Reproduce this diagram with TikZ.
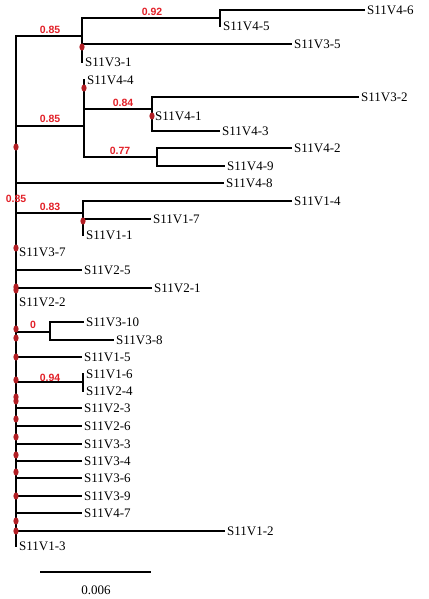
\documentclass[tikz,border=0pt]{standalone}
\usepackage{fontspec}
\setmainfont{Liberation Serif}
\newfontfamily\supfont{Liberation Sans}
\usetikzlibrary{positioning}

\definecolor{suppred}{RGB}{226,32,40}
\definecolor{dotred}{RGB}{178,30,36}

\begin{document}
\begin{tikzpicture}[
  x=1pt, y=-1pt,
  branch/.style={line width=1.7pt},
  leaf/.style={anchor=west, inner sep=2pt, font=\fontsize{13}{15}\selectfont},
  supp/.style={text=suppred, inner sep=0pt, font=\supfont\bfseries\fontsize{10.5}{12}\selectfont},
  hit/.style={fill=dotred, draw=none}
]
  \useasboundingbox (0,0) rectangle (428,599);

  % internal nodes
  \coordinate (r)  at (16,290);
  \coordinate (a)  at (82,36);
  \coordinate (a1) at (220,18);
  \coordinate (b)  at (84,126);
  \coordinate (c)  at (152,109);
  \coordinate (d)  at (157,157);
  \coordinate (e)  at (83,213);
  \coordinate (f)  at (50,332);
  \coordinate (g)  at (83,382);

  % leaves
  \node[leaf] (l46)  at (365,10)  {S11V4-6};
  \node[leaf] (l45)  at (221,26)  {S11V4-5};
  \node[leaf] (l35)  at (292,44)  {S11V3-5};
  \node[leaf] (l31)  at (83,62)   {S11V3-1};
  \node[leaf] (l44)  at (85,80)   {S11V4-4};
  \node[leaf] (l32)  at (359,97)  {S11V3-2};
  \node[leaf] (l41)  at (153,116) {S11V4-1};
  \node[leaf] (l43)  at (220,131) {S11V4-3};
  \node[leaf] (l42)  at (292,148) {S11V4-2};
  \node[leaf] (l49)  at (225,166) {S11V4-9};
  \node[leaf] (l48)  at (224,183) {S11V4-8};
  \node[leaf] (l14)  at (292,201) {S11V1-4};
  \node[leaf] (l17)  at (151,219) {S11V1-7};
  \node[leaf] (l11)  at (84,235)  {S11V1-1};
  \node[leaf] (l37)  at (17,252)  {S11V3-7};
  \node[leaf] (l25)  at (82,270)  {S11V2-5};
  \node[leaf] (l21)  at (152,288) {S11V2-1};
  \node[leaf] (l22)  at (17,302)  {S11V2-2};
  \node[leaf] (l310) at (84,322)  {S11V3-10};
  \node[leaf] (l38)  at (114,340) {S11V3-8};
  \node[leaf] (l15)  at (82,357)  {S11V1-5};
  \node[leaf] (l16)  at (84,374)  {S11V1-6};
  \node[leaf] (l24)  at (84,391)  {S11V2-4};
  \node[leaf] (l23)  at (82,408)  {S11V2-3};
  \node[leaf] (l26)  at (82,426)  {S11V2-6};
  \node[leaf] (l33)  at (82,444)  {S11V3-3};
  \node[leaf] (l34)  at (82,461)  {S11V3-4};
  \node[leaf] (l36)  at (82,478)  {S11V3-6};
  \node[leaf] (l39)  at (82,496)  {S11V3-9};
  \node[leaf] (l47)  at (82,513)  {S11V4-7};
  \node[leaf] (l12)  at (225,531) {S11V1-2};
  \node[leaf] (l13)  at (17,546)  {S11V1-3};

  % branches
  \foreach \p/\c in {r/a, a/a1, a1/l46.west, a1/l45.west, a/l35.west, a/l31.west,
                     r/b, b/l44.west, b/c, c/l32.west, c/l41.west, c/l43.west,
                     b/d, d/l42.west, d/l49.west, r/l48.west,
                     r/e, e/l14.west, e/l17.west, e/l11.west,
                     r/l37.west, r/l25.west, r/l21.west, r/l22.west,
                     r/f, f/l310.west, f/l38.west, r/l15.west,
                     r/g, g/l16.west, g/l24.west,
                     r/l23.west, r/l26.west, r/l33.west, r/l34.west, r/l36.west,
                     r/l39.west, r/l47.west, r/l12.west, r/l13.west}
    \draw[branch] (\p) |- (\c);

  % support values
  \node[supp] (sa)  at (50,30)   {0.85};
  \node[supp] (sa1) at (152,12)  {0.92};
  \node[supp] (sb)  at (50,119)  {0.85};
  \node[supp] (sc)  at (123,103) {0.84};
  \node[supp] (sd)  at (120,151) {0.77};
  \node[supp] (sr)  at (16,199)  {0.85};
  \node[supp] (se)  at (50,207)  {0.83};
  \node[supp] (sf)  at (33,325)  {0};
  \node[supp] (sg)  at (50,378)  {0.94};

  % marks on branches
  \foreach \x/\y in {82/47, 84/88, 152/116, 83/221, 16/147, 16/248, 16/287, 16/290,
                     16/329, 16/338, 16/357, 16/380, 16/397, 16/401, 16/419,
                     16/437, 16/455, 16/472, 16/496, 16/521, 16/531}
    \fill[hit] (\x,\y) ellipse (2.6 and 3.6);

  % scale bar
  \coordinate (sb1) at (40,572);
  \coordinate (sb2) at (151,572);
  \draw[branch] (sb1) -- (sb2);
  \node[font=\fontsize{13}{15}\selectfont] (scale) at (96,590) {0.006};
\end{tikzpicture}
\end{document}
